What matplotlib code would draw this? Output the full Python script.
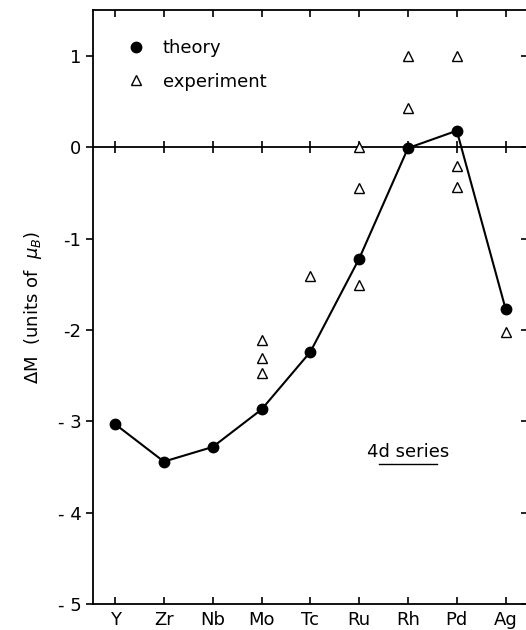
import numpy as np
import matplotlib
matplotlib.use('Agg')
from matplotlib import pyplot as plt
from matplotlib.lines import Line2D

# 4d series, magnetic moment change
elements = ['Y', 'Zr', 'Nb', 'Mo', 'Tc', 'Ru', 'Rh', 'Pd', 'Ag']
theory = [-3.03, -3.44, -3.28, -2.87, -2.24, -1.22, -0.01, 0.18, -1.77]

# experiment: (element index, value)
exp_idx = [3, 3, 3, 4, 5, 5, 5, 6, 6, 7, 7, 7, 8]
exp_val = [-2.11, -2.31, -2.47, -1.41, 0.0, -0.45, -1.51, 1.0, 0.43, 1.0, -0.21, -0.44, -2.02]

yticks = [-5, -4, -3, -2, -1, 0, 1]
ytick_labels = ['- 5', '- 4', '- 3', '-2', '-1', '0', '1']

plt.rcParams['font.family'] = ['DejaVu Sans']
plt.rcParams['mathtext.fontset'] = 'dejavusans'

fig = plt.figure(figsize=(5.26, 6.30), dpi=100)
ax = fig.add_axes([0.177, 0.041, 0.826, 0.943])

x = np.arange(len(elements))
ax.plot(x, theory, '-o', color='black', lw=1.5, markersize=7.5)
ax.plot(exp_idx, exp_val, linestyle='', marker='^', markersize=6.5,
		markerfacecolor='white', markeredgecolor='black', markeredgewidth=1.0)

# zero line with crossing ticks
ax.axhline(0, color='black', lw=1.3, zorder=1)
ax.plot(x, np.zeros(len(x)), linestyle='', marker='|', markersize=9,
		color='black', markeredgewidth=1.2, zorder=1)

ax.set_xlim(-0.45, 8.45)
ax.set_ylim(-5, 1.5)
ax.set_xticks(x)
ax.set_xticklabels(elements, fontsize=13)
ax.set_yticks(yticks)
ax.set_yticklabels(ytick_labels, fontsize=13)
ax.tick_params(axis='x', direction='in', top=True, length=5, width=1.2, pad=5)
ax.tick_params(axis='y', direction='out', length=5, width=1.2)
for s in ax.spines.values():
	s.set_linewidth(1.3)

sec = ax.secondary_yaxis('right')
sec.set_yticks(yticks)
sec.tick_params(direction='in', length=5, width=1.2, labelright=False)

ax.set_ylabel(r'$\Delta$M  (units of  $\mu_B$)', fontsize=13, labelpad=10)

handles = [
	Line2D([], [], linestyle='', marker='o', color='black', markersize=7.5),
	Line2D([], [], linestyle='', marker='^', markersize=6.5, markerfacecolor='white',
		markeredgecolor='black', markeredgewidth=1.0),
]
ax.legend(handles, ['theory', 'experiment'], loc='upper left',
		bbox_to_anchor=(0.04, 0.978), frameon=False, fontsize=13,
		handletextpad=1.0, labelspacing=0.85, handlelength=1.0)

ax.text(6.0, -3.34, '4d series', fontsize=13, ha='center', va='center')
ax.plot([5.4, 6.6], [-3.47, -3.47], color='black', lw=1.0)

fig.savefig('out.png', dpi=100)
